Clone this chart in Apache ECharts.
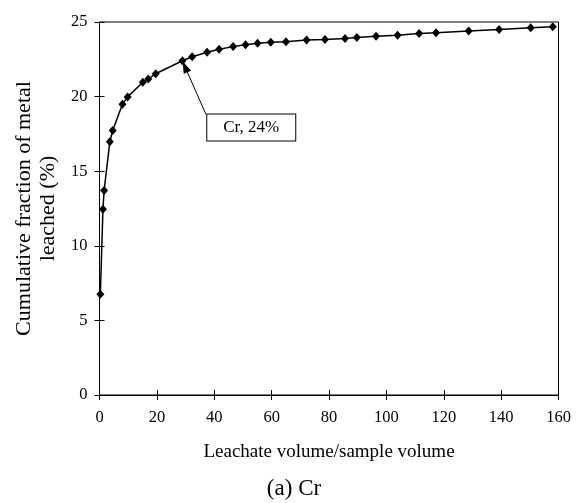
<!DOCTYPE html>
<html>
<head>
<meta charset="utf-8">
<script src="https://cdn.jsdelivr.net/npm/echarts@6/dist/echarts.min.js"></script>
<style>
  html, body { margin: 0; padding: 0; background: #fff; }
  #chart { width: 588px; height: 503px; }
</style>
</head>
<body>
<div id="chart"></div>
<script>
// leachate volume / sample volume
var volRatio = [0.3, 1.2, 1.6, 3.6, 4.6, 8.0, 9.8, 15.1, 17.0, 19.6, 28.9, 32.3, 37.5, 41.7,
  46.6, 50.9, 55.1, 59.7, 65.0, 72.2, 78.6, 85.6, 89.7, 96.4, 103.9, 111.4, 117.3, 128.7,
  139.3, 150.3, 158.0];
// cumulative fraction leached (%)
var leached = [6.75, 12.45, 13.7, 16.97, 17.73, 19.49, 19.98, 20.96, 21.18, 21.53, 22.4, 22.67,
  22.97, 23.17, 23.35, 23.48, 23.57, 23.64, 23.67, 23.79, 23.83, 23.9, 23.96, 24.05, 24.12,
  24.23, 24.28, 24.39, 24.5, 24.62, 24.68];
var xTicks = [0, 20, 40, 60, 80, 100, 120, 140, 160];
var yTicks = [0, 5, 10, 15, 20, 25];
var noteText = 'Cr, 24%';
var noteFrom = [37.1, 18.81];   // box corner
var noteTo = [29.8, 22.0];      // arrow tip
var notePos = [52.9, 17.93];    // box centre

var font = '"Liberation Serif", "Times New Roman", serif';

var points = volRatio.map(function (v, i) { return [v, leached[i]]; });

var myChart = echarts.init(document.getElementById('chart'));

var baseX = {
  type: 'value', min: xTicks[0], max: xTicks[xTicks.length - 1], interval: 20,
  position: 'bottom',
  splitLine: { show: false }
};
var baseY = {
  type: 'value', min: yTicks[0], max: yTicks[yTicks.length - 1], interval: 5,
  position: 'left',
  splitLine: { show: false }
};

myChart.setOption({
  animation: false,
  backgroundColor: '#fff',
  grid: {
    left: 99.5, right: 29.5, top: 22, bottom: 108,
    outerBoundsMode: 'none', containLabel: false,
    show: true, borderColor: '#000', borderWidth: 1, backgroundColor: 'transparent'
  },
  xAxis: [
    Object.assign({}, baseX, {
      name: 'Leachate volume/sample volume',
      nameLocation: 'middle', nameGap: 48,
      nameTextStyle: { fontFamily: font, fontSize: 19, color: '#000' },
      axisLine: { lineStyle: { color: '#000', width: 1 } },
      axisTick: { inside: false, length: 5, lineStyle: { color: '#000' } },
      axisLabel: { fontFamily: font, fontSize: 16.5, color: '#000', margin: 14 }
    }),
    Object.assign({}, baseX, {
      axisLine: { show: false },
      axisTick: { inside: true, length: 5, lineStyle: { color: '#000' } },
      axisLabel: { show: false }
    })
  ],
  yAxis: [
    Object.assign({}, baseY, {
      name: 'Cumulative fraction of metal\nleached (%)',
      nameLocation: 'middle', nameGap: 39,
      nameTextStyle: { fontFamily: font, fontSize: 22, color: '#000', lineHeight: 24 },
      axisLine: { lineStyle: { color: '#000', width: 1 } },
      axisTick: { inside: false, length: 5, lineStyle: { color: '#000' } },
      axisLabel: { fontFamily: font, fontSize: 16.5, color: '#000', margin: 12 }
    }),
    Object.assign({}, baseY, {
      axisLine: { show: false },
      axisTick: { inside: true, length: 5, lineStyle: { color: '#000' } },
      axisLabel: { show: false }
    })
  ],
  title: {
    text: '(a) Cr', left: 'center', top: 472,
    textStyle: { fontFamily: font, fontSize: 23, fontWeight: 'normal', color: '#000' }
  },
  series: [{
    type: 'line',
    data: points,
    symbol: 'diamond',
    symbolSize: [8, 9],
    itemStyle: { color: '#000' },
    lineStyle: { color: '#000', width: 1.5 },
    markLine: {
      silent: true,
      symbol: ['none', 'triangle'],
      symbolSize: [8, 12],
      label: { show: false },
      lineStyle: { color: '#000', width: 1, type: 'solid' },
      data: [[{ coord: noteFrom }, { coord: noteTo }]]
    },
    markPoint: {
      silent: true,
      symbol: 'rect',
      symbolSize: 0,
      data: [{ coord: notePos, value: noteText }],
      label: {
        show: true, position: 'inside',
        formatter: noteText,
        fontFamily: font, fontSize: 17, color: '#000', lineHeight: 18,
        backgroundColor: '#fff', borderColor: '#000', borderWidth: 1,
        padding: [4, 16]
      }
    }
  }]
});
</script>
</body>
</html>
